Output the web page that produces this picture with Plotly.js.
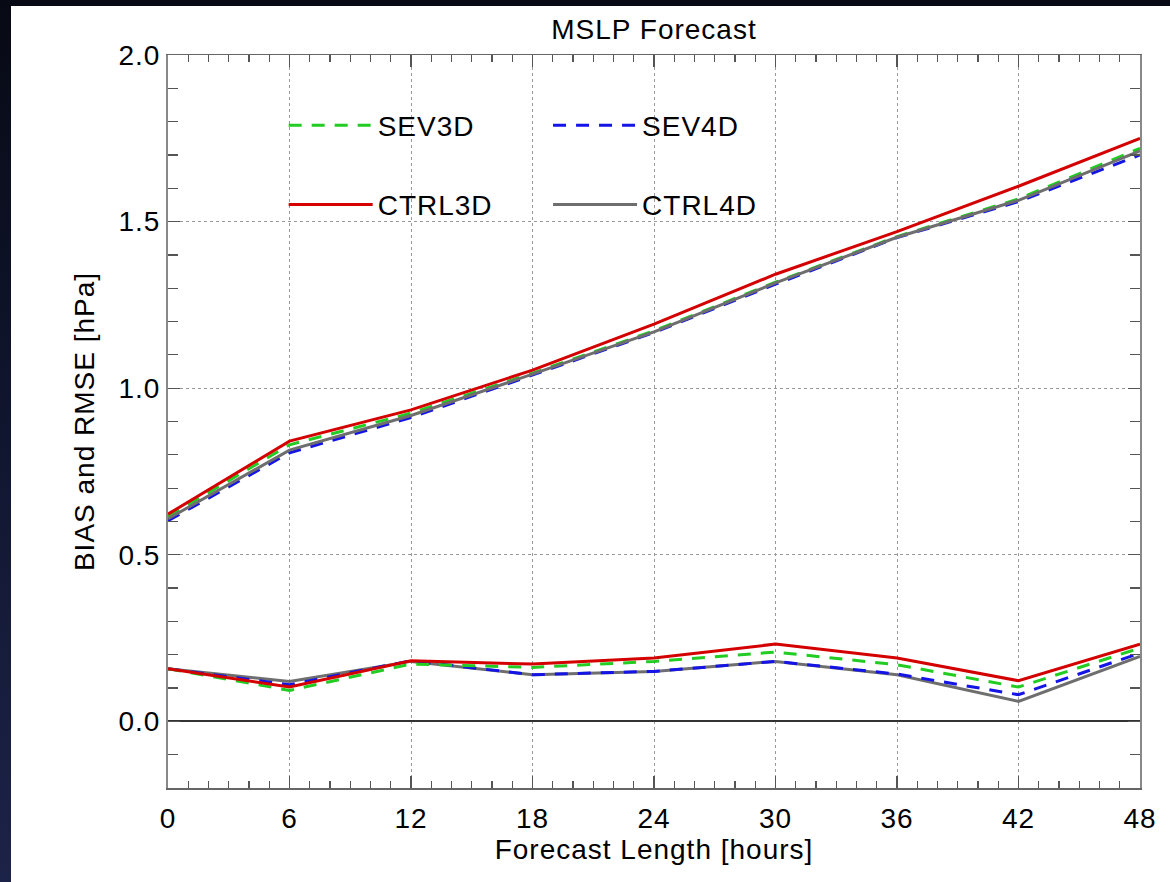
<!DOCTYPE html>
<html>
<head>
<meta charset="utf-8">
<script src="https://cdn.plot.ly/plotly-3.0.1.min.js"></script>
<style>
  html, body { margin: 0; padding: 0; width: 1170px; height: 882px; overflow: hidden;
    background: linear-gradient(to bottom, #070a14 0%, #111630 50%, #1c2348 100%); }
  #chart { position: absolute; left: 11px; top: 6px; width: 1159px; height: 876px; background: #fff; }
  #chart text { letter-spacing: 1px; }
</style>
</head>
<body>
<div id="chart"></div>
<script>
// Forecast lead times (hours)
const hours = [0, 6, 12, 18, 24, 30, 36, 42, 48];
const xTickVals = [0, 6, 12, 18, 24, 30, 36, 42, 48];

// RMSE (upper curves), hPa
const rmseSEV3D  = [0.615, 0.830, 0.925, 1.045, 1.172, 1.318, 1.455, 1.568, 1.720];
const rmseSEV4D  = [0.602, 0.806, 0.912, 1.040, 1.167, 1.312, 1.452, 1.560, 1.700];
const rmseCTRL3D = [0.622, 0.841, 0.935, 1.054, 1.192, 1.342, 1.470, 1.606, 1.750];
const rmseCTRL4D = [0.608, 0.814, 0.918, 1.042, 1.169, 1.316, 1.453, 1.564, 1.712];

// BIAS (lower curves), hPa
const biasSEV3D  = [0.158, 0.093, 0.172, 0.162, 0.180, 0.208, 0.170, 0.103, 0.220];
const biasSEV4D  = [0.158, 0.110, 0.182, 0.140, 0.150, 0.180, 0.142, 0.080, 0.205];
const biasCTRL3D = [0.158, 0.103, 0.182, 0.172, 0.190, 0.232, 0.190, 0.122, 0.232];
const biasCTRL4D = [0.158, 0.120, 0.180, 0.140, 0.150, 0.180, 0.140, 0.060, 0.195];

const names = ['SEV3D', 'CTRL3D', 'SEV4D', 'CTRL4D'];
const colors = {SEV3D: '#22cc22', SEV4D: '#1414e6', CTRL3D: '#d40000', CTRL4D: '#6e6e6e'};
const dashes = {SEV3D: '13px,10px', SEV4D: '13px,10px', CTRL3D: 'solid', CTRL4D: 'solid'};
const legendOf = {SEV3D: 'legend', CTRL3D: 'legend', SEV4D: 'legend2', CTRL4D: 'legend2'};
const rmse = {SEV3D: rmseSEV3D, SEV4D: rmseSEV4D, CTRL3D: rmseCTRL3D, CTRL4D: rmseCTRL4D};
const bias = {SEV3D: biasSEV3D, SEV4D: biasSEV4D, CTRL3D: biasCTRL3D, CTRL4D: biasCTRL4D};

const drawOrder = ['CTRL4D', 'SEV4D', 'SEV3D', 'CTRL3D'];
const traces = [];
drawOrder.forEach(n => {
  traces.push({x: hours, y: bias[n], type: 'scatter', mode: 'lines', name: n,
    line: {color: colors[n], width: 3, dash: dashes[n]}, showlegend: false, hoverinfo: 'skip'});
});
// legend order: SEV3D, CTRL3D in legend; SEV4D, CTRL4D in legend2
names.forEach((n, i) => {
  traces.push({x: hours, y: rmse[n], type: 'scatter', mode: 'lines', name: n,
    legend: legendOf[n], legendgroup: n, legendrank: i,
    line: {color: colors[n], width: 3, dash: dashes[n]}, showlegend: true});
});

const FONT = 'Liberation Sans, Arial, Helvetica, sans-serif';
const FS = 28;
const layout = {
  width: 1159, height: 876,
  paper_bgcolor: '#ffffff', plot_bgcolor: '#ffffff',
  margin: {l: 157, r: 30, t: 49, b: 94},
  font: {family: FONT, size: FS, color: '#000'},
  showlegend: true,
  title: {text: 'MSLP Forecast', font: {family: FONT, size: FS, color: '#000'},
    x: 0.5, xref: 'paper', xanchor: 'center', y: 0.973, yref: 'container', yanchor: 'middle'},
  xaxis: {
    range: [0, 48], tickvals: xTickVals, ticktext: xTickVals.map(String),
    ticks: 'inside', ticklen: 12, tickcolor: '#555', tickwidth: 1.2,
    minor: {dtick: 1, tick0: 0, ticks: 'inside', ticklen: 7, tickcolor: '#555', tickwidth: 1.2, showgrid: false},
    showline: true, linecolor: '#666', linewidth: 1.5, mirror: 'ticks',
    showgrid: true, gridcolor: '#999', griddash: 'dot', gridwidth: 1,
    zeroline: false, ticklabelstandoff: 5,
    tickfont: {family: FONT, size: FS, color: '#000'},
    title: {text: 'Forecast Length [hours]', font: {family: FONT, size: FS, color: '#000'}, standoff: 6}
  },
  yaxis: {
    range: [-0.2, 2.0], dtick: 0.5, tick0: 0, tickformat: '.1f',
    ticks: 'inside', ticklen: 12, tickcolor: '#555', tickwidth: 1.2,
    minor: {dtick: 0.1, tick0: 0, ticks: 'inside', ticklen: 10, tickcolor: '#555', tickwidth: 1.2, showgrid: false},
    showline: true, linecolor: '#888', linewidth: 2, mirror: 'ticks',
    showgrid: true, gridcolor: '#999', griddash: 'dot', gridwidth: 1,
    zeroline: true, zerolinecolor: '#333', zerolinewidth: 2,
    tickfont: {family: FONT, size: FS, color: '#000'},
    title: {text: 'BIAS and RMSE [hPa]', font: {family: FONT, size: FS, color: '#000'}, standoff: 19}
  },
  legend: {x: 0.119, xanchor: 'left', y: 0.938, yanchor: 'top', bgcolor: 'rgba(0,0,0,0)',
    borderwidth: 0, itemwidth: 84, tracegroupgap: 40, traceorder: 'grouped',
    font: {family: FONT, size: FS, color: '#000'}},
  legend2: {x: 0.391, xanchor: 'left', y: 0.938, yanchor: 'top', bgcolor: 'rgba(0,0,0,0)',
    borderwidth: 0, itemwidth: 84, tracegroupgap: 40, traceorder: 'grouped',
    font: {family: FONT, size: FS, color: '#000'}}
};

Plotly.newPlot('chart', traces, layout, {displayModeBar: false, staticPlot: true});
</script>
</body>
</html>
